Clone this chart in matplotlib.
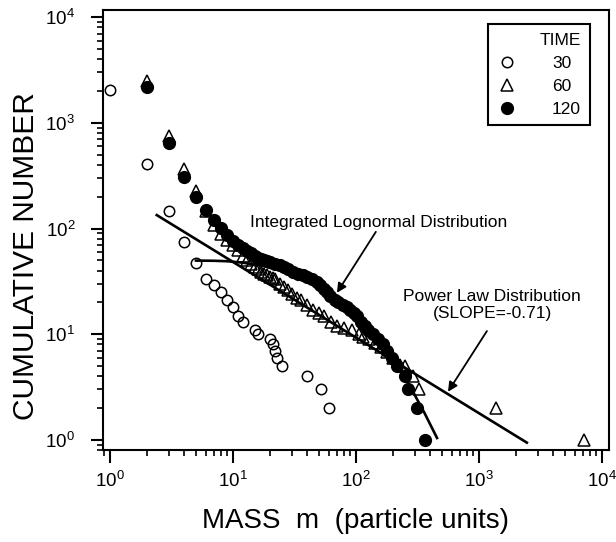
import numpy as np
import matplotlib
matplotlib.use("Agg")
import matplotlib.pyplot as plt

plt.rcParams['font.family'] = ['Liberation Sans', 'DejaVu Sans']
plt.rcParams['mathtext.default'] = 'regular'

# cumulative number N(>=m) for each time
m_30 = [1, 2, 3, 4, 5, 6, 7, 8, 9, 10, 11, 12, 15, 16, 20, 21, 22, 23, 25, 40, 52, 60]
n_30 = [2050, 408, 147, 75, 47, 33, 29, 25, 21, 18, 15, 13, 11, 10, 9, 8, 7, 6, 5, 4, 3, 2]

m_60 = [2, 3, 4, 5, 6, 7, 8, 9, 10, 11, 12, 13, 14, 15, 16, 17, 18, 19, 20, 21, 22,
        24, 26, 28, 30, 33, 36, 40, 45, 50, 55, 63, 70, 80, 93, 105, 114, 128, 142,
        160, 178, 200, 227, 250, 290, 325, 1370, 7200]
n_60 = [2500, 750, 365, 228, 145, 108, 88, 78, 70, 62, 55, 50, 46, 43, 41, 39, 37, 36, 35, 34, 33,
        30, 28, 26, 24, 22, 21, 19, 17, 16, 15, 13, 12, 11.5, 11, 10, 9.4, 9, 8.3,
        7.5, 6.8, 6, 5.1, 5, 4, 3, 2, 1]

m_120 = [2, 3, 4, 5, 6, 7, 8, 9, 10, 11, 12, 13, 14, 15, 16, 17, 18, 19, 20, 22, 24, 26,
         28, 31, 34, 37, 40, 44, 48, 51, 55, 58, 62, 67, 72, 78, 84, 90, 96, 102, 110,
         118, 125, 137, 150, 165, 178, 195, 215, 250, 265, 315, 365]
n_120 = [2180, 645, 307, 200, 150, 120, 101, 87, 76, 70, 65, 61, 58, 55, 53, 51, 50, 49, 48, 46, 45, 43,
         41, 39, 37, 36, 35, 33, 31, 29, 27, 25, 23, 21, 20, 19, 18, 17, 16, 15, 13,
         12, 11, 10, 9, 8, 7, 6, 5, 4, 3, 2, 1]

# fitted curves, points
m_lognormal = [5, 7, 9, 12, 18, 28, 45, 70, 110, 160, 220, 285, 360, 456]
n_lognormal = [49.7, 49.5, 49, 47.5, 44, 38, 30, 22, 14, 8.5, 5, 2.97, 1.8, 1.04]

m_power = [2.4, 2450]
n_power = [134, 0.94]

times = ['30', '60', '120']

fig = plt.figure(figsize=(6.16, 5.42), dpi=100)
ax = fig.add_axes([0.1672, 0.1697, 0.8214, 0.8118])

ax.plot(m_power, n_power, color='black', lw=1.9, zorder=1)
ax.plot(m_lognormal, n_lognormal, color='black', lw=1.9, zorder=1)

h30, = ax.plot(m_30, n_30, 'o', ms=7.5, mfc='none', mec='black', mew=1.1,
               ls='none', zorder=3)
h60, = ax.plot(m_60, n_60, '^', ms=8, mfc='none', mec='black', mew=1.1,
               ls='none', zorder=3)
h120, = ax.plot(m_120, n_120, 'o', ms=8.5, mfc='black', mec='black',
                ls='none', zorder=4)

ax.set_xscale('log')
ax.set_yscale('log')
ax.set_xlim(0.877, 11400)
ax.set_ylim(0.80, 11700)

for s in ax.spines.values():
    s.set_linewidth(1.5)
ax.tick_params(which='both', direction='out', top=False, right=False,
               width=1.5, labelsize=13.5)
ax.tick_params(which='major', length=9)
ax.tick_params(which='minor', length=4, width=1.2)
ax.tick_params(axis='x', which='major', pad=6)
ax.tick_params(axis='y', which='major', pad=11)

ax.set_xlabel('MASS  m  (particle units)', fontsize=20, labelpad=12)
ax.set_ylabel('CUMULATIVE NUMBER', fontsize=21.5)
ax.yaxis.set_label_coords(-0.125, 0.44)

# annotations
ax.text(13.7, 115, 'Integrated Lognormal Distribution', fontsize=12.5,
        ha='left', va='center')
ax.annotate('', xy=(70, 24.6), xytext=(145, 93),
            arrowprops=dict(arrowstyle='-|>', color='black', lw=1.3,
                            mutation_scale=14, shrinkA=0, shrinkB=0))
ax.text(1276, 18.9, 'Power Law Distribution\n(SLOPE=-0.71)', fontsize=12.5,
        ha='center', va='center', linespacing=1.1)
ax.annotate('', xy=(560, 2.85), xytext=(1160, 10.7),
            arrowprops=dict(arrowstyle='-|>', color='black', lw=1.3,
                            mutation_scale=14, shrinkA=0, shrinkB=0))

leg = ax.legend([h30, h60, h120], times, title='TIME', loc='upper right',
                bbox_to_anchor=(0.962, 0.968), borderaxespad=0, fontsize=12.5,
                title_fontsize=12.5, alignment='right', fancybox=False,
                framealpha=1, edgecolor='black', handletextpad=2.0,
                labelspacing=0.45, borderpad=0.5, handlelength=1.2)
leg.get_frame().set_linewidth(1.5)

fig.savefig('out.png', dpi=100)
